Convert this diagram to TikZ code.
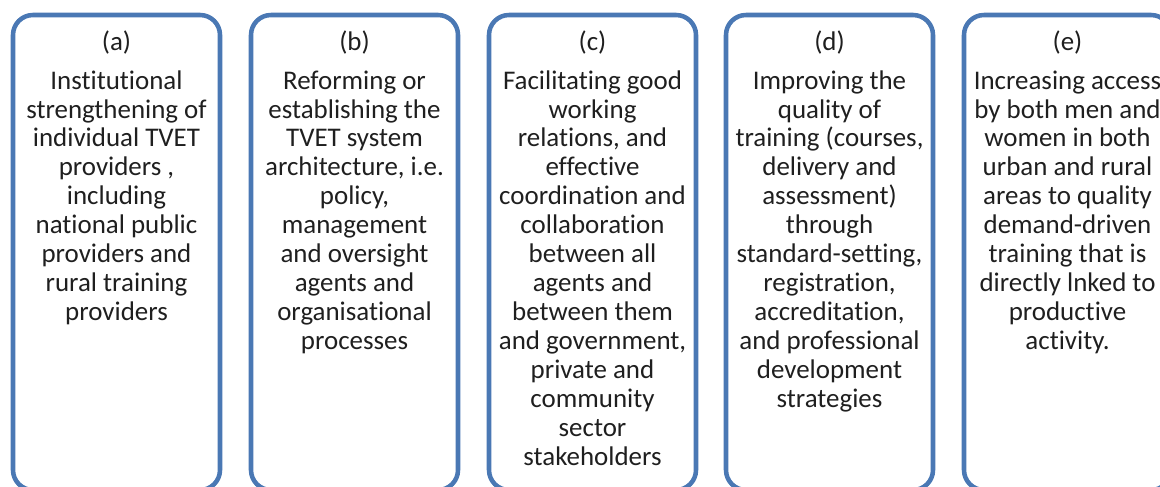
\documentclass[tikz,border=0pt]{standalone}
\usepackage{fontspec}
\setmainfont{Carlito}[Ligatures=CommonOff]
\usetikzlibrary{positioning}
\definecolor{panelblue}{RGB}{74,120,180}

\begin{document}
\begin{tikzpicture}[x=0.75pt,y=-0.75pt,
			panel/.style={draw=panelblue,line width=3.4pt,rounded corners=15pt,
				minimum width=155.25pt,minimum height=356.25pt,inner sep=0pt},
			tag/.style={inner sep=0pt,text=black!88,font=\fontsize{20.2}{21.7}\selectfont},
			blurb/.style={inner sep=0pt,align=center,text=black!88,font=\fontsize{20.2}{21.7}\selectfont}]
			\useasboundingbox (0,0) rectangle (1160,486);
			\clip (0,0) rectangle (1160,486);
			% the five panels
			\node (pa) [panel] at (116.5,252.5) {};
			\node (pb) [panel] at (354.5,252.5) {};
			\node (pc) [panel] at (592.5,252.5) {};
			\node (pd) [panel] at (829.5,252.5) {};
			\node (pe) [panel] at (1067.5,252.5) {};

			\node (taga) [tag,below=12.6pt of pa.north] {\strut(a)};
			\node (texta) [blurb,below=7.2pt of taga] {\strut Institutional\\
				strengthening of\\ individual TVET\\ providers ,\\ including\\
				national public\\ providers and\\ rural training\\ providers};

			\node (tagb) [tag,below=12.6pt of pb.north] {\strut(b)};
			\node (textb) [blurb,below=7.2pt of tagb] {\strut Reforming or\\
				establishing the\\ TVET system\\ architecture, i.e.\\ policy,\\
				management\\ and oversight\\ agents and\\ organisational\\ processes};

			\node (tagc) [tag,below=12.6pt of pc.north] {\strut(c)};
			\node (textc) [blurb,below=7.2pt of tagc] {\strut Facilitating good\\
				working\\ relations, and\\ effective\\ coordination and\\
				collaboration\\ between all\\ agents and\\ between them\\
				and government,\\ private and\\ community\\ sector\\ stakeholders};

			\node (tagd) [tag,below=12.6pt of pd.north] {\strut(d)};
			\node (textd) [blurb,below=7.2pt of tagd] {\strut Improving the\\
				quality of\\ training (courses,\\ delivery and\\ assessment)\\
				through\\ standard-setting,\\ registration,\\ accreditation,\\
				and professional\\ development\\ strategies};

			\node (tage) [tag,below=12.6pt of pe.north] {\strut(e)};
			\node (texte) [blurb,below=7.2pt of tage] {\strut Increasing access\\
				by both men and\\ women in both\\ urban and rural\\ areas to quality\\
				demand-driven\\ training that is\\ directly lnked to\\ productive\\ activity.};
		\end{tikzpicture}
\end{document}
